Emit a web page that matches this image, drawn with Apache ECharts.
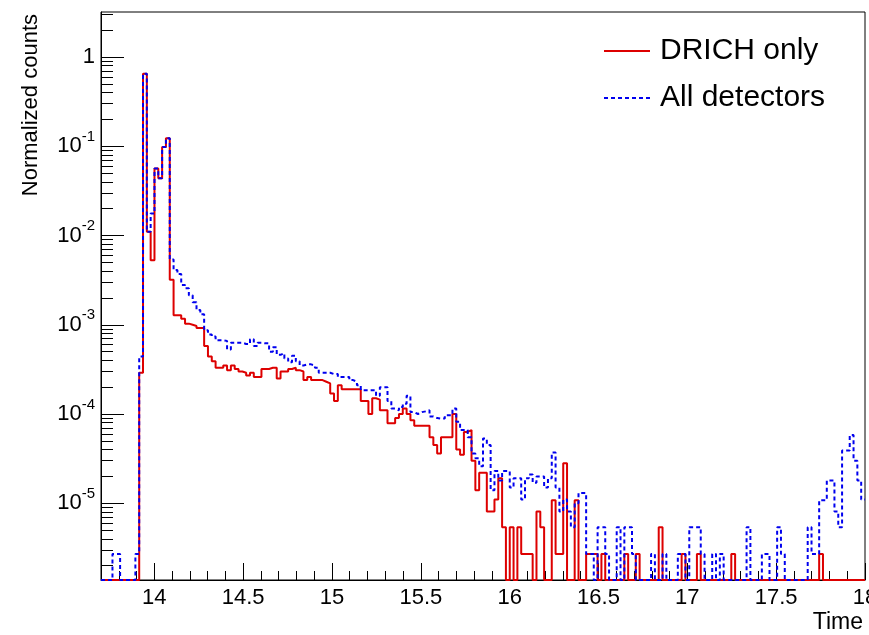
<!DOCTYPE html>
<html>
<head>
<meta charset="utf-8">
<script src="https://cdn.jsdelivr.net/npm/echarts@6/dist/echarts.min.js"></script>
<style>
html,body{margin:0;padding:0;background:#fff;}
#chart{width:869px;height:635px;}
</style>
</head>
<body>
<div id="chart"></div>
<script>
// Histogram binning (200 bins from 13.7 to 18.0)
const histLow = 13.7;
const histHigh = 18.0;
const nBins = 200;

// DRICH only (normalized counts per bin)
const drichOnly = [
  0,0,0,0,0,0,0,0,0,0,
  2.9e-4,0.652,0.011,0.0053,0.0565,0.044,0.098,0.123,0.0032,1.28e-3,
  1.28e-3,1.17e-3,1.03e-3,1.0e-3,9.7e-4,9.2e-4,9.2e-4,5.8e-4,4.4e-4,3.9e-4,
  3.3e-4,3.3e-4,3.5e-4,3.1e-4,3.5e-4,3.2e-4,3.0e-4,2.9e-4,2.7e-4,2.9e-4,
  2.6e-4,2.6e-4,3.2e-4,3.2e-4,3.3e-4,3.3e-4,2.5e-4,3.0e-4,3.0e-4,3.2e-4,
  3.3e-4,3.1e-4,3.0e-4,2.4e-4,2.6e-4,2.4e-4,2.4e-4,2.4e-4,2.3e-4,2.2e-4,
  1.7e-4,1.4e-4,2.1e-4,1.9e-4,1.9e-4,1.9e-4,1.9e-4,1.9e-4,1.4e-4,1.4e-4,
  1.0e-4,1.5e-4,1.45e-4,1.1e-4,1.1e-4,7.9e-5,7.9e-5,9.0e-5,1.0e-4,1.15e-4,
  1.0e-4,8.5e-5,7.4e-5,7.4e-5,7.4e-5,7.4e-5,5.5e-5,4.5e-5,3.6e-5,5.5e-5,
  5.5e-5,5.5e-5,1.0e-4,4.0e-5,3.5e-5,6.3e-5,6.6e-5,3.0e-5,1.4e-5,2.2e-5,
  2.2e-5,8.1e-6,8.1e-6,1.1e-5,1.9e-5,5.4e-6,0,5.4e-6,0,5.4e-6,
  2.7e-6,2.7e-6,2.7e-6,0,8.1e-6,5.4e-6,0,0,1.08e-5,2.7e-6,
  2.7e-6,2.8e-5,0,0,1.08e-5,0,0,2.7e-6,2.7e-6,2.7e-6,
  0,2.7e-6,0,0,0,0,0,2.7e-6,0,0,
  2.7e-6,0,0,0,0,0,5.4e-6,0,0,0,
  0,0,2.7e-6,0,0,0,2.7e-6,0,0,0,
  0,0,0,0,0,2.7e-6,0,0,0,0,
  0,0,0,0,0,0,0,0,0,0,
  0,0,0,0,0,0,0,0,2.7e-6,0,
  0,0,0,0,0,0,0,0,0,0
];

// All detectors (normalized counts per bin)
const allDetectors = [
  0,0,0,2.7e-6,2.7e-6,0,0,0,0,2.7e-6,
  4.4e-4,0.652,0.011,0.0177,0.0565,0.044,0.098,0.123,0.0054,4.1e-3,
  3.7e-3,2.8e-3,2.57e-3,2.14e-3,1.79e-3,1.46e-3,1.31e-3,8.7e-4,7.8e-4,7.4e-4,
  6.7e-4,6.7e-4,6.6e-4,5.3e-4,6.3e-4,6.3e-4,6.3e-4,6.1e-4,6.1e-4,6.9e-4,
  5.8e-4,6.3e-4,6.2e-4,6.2e-4,5.0e-4,5.6e-4,4.6e-4,4.8e-4,4.2e-4,3.8e-4,
  4.5e-4,3.9e-4,3.5e-4,3.6e-4,3.6e-4,3.5e-4,3.3e-4,2.9e-4,2.9e-4,2.9e-4,
  2.8e-4,2.8e-4,2.6e-4,2.6e-4,2.6e-4,2.4e-4,2.3e-4,2.1e-4,1.85e-4,1.85e-4,
  1.85e-4,1.85e-4,1.6e-4,2.0e-4,2.0e-4,1.4e-4,1.15e-4,1.1e-4,1.2e-4,1.3e-4,
  1.6e-4,1.05e-4,1.0e-4,1.05e-4,1.07e-4,1.1e-4,9.4e-5,9.0e-5,8.9e-5,8.9e-5,
  9.7e-5,9.7e-5,1.15e-4,8.2e-5,6.6e-5,6.6e-5,5.5e-5,3.6e-5,3.2e-5,2.6e-5,
  5.3e-5,4.5e-5,1.4e-5,2.3e-5,1.8e-5,2.3e-5,2.3e-5,1.5e-5,1.9e-5,1.9e-5,
  1.1e-5,1.9e-5,2.1e-5,1.7e-5,2.0e-5,2.0e-5,1.5e-5,1.9e-5,3.7e-5,1.5e-5,
  8.1e-6,1.1e-5,8.1e-6,5.4e-6,1.0e-5,1.3e-5,1.3e-5,2.7e-6,2.7e-6,0,
  5.4e-6,5.4e-6,2.7e-6,0,0,5.4e-6,0,5.4e-6,5.4e-6,2.7e-6,
  0,0,0,0,2.7e-6,0,0,2.7e-6,0,0,
  0,2.7e-6,2.7e-6,0,5.4e-6,5.4e-6,5.4e-6,2.7e-6,0,0,
  2.7e-6,0,2.7e-6,0,0,0,0,0,0,5.4e-6,
  0,0,0,2.7e-6,2.7e-6,0,0,5.4e-6,2.7e-6,0,
  0,0,0,0,0,5.4e-6,2.7e-6,2.7e-6,1.08e-5,1.08e-5,
  1.8e-5,1.8e-5,8.1e-6,5.4e-6,3.9e-5,3.9e-5,5.8e-5,3.0e-5,1.8e-5,1.1e-5
];

// Axis ticks and labels
const xTickValues = [14, 14.5, 15, 15.5, 16, 16.5, 17, 17.5, 18];
const xTickLabels = ['14', '14.5', '15', '15.5', '16', '16.5', '17', '17.5', '18'];
const yTickValues = [1e-5, 1e-4, 1e-3, 1e-2, 1e-1, 1];
const yTickLabels = ['10{s|-5}', '10{s|-4}', '10{s|-3}', '10{s|-2}', '10{s|-1}', '1'];

const yMin = 1.38e-6;
const yMax = 3.2;

// bin edges
const binWidth = (histHigh - histLow) / nBins;
const edges = [];
for (let i = 0; i <= nBins; i++) edges.push(+(histLow + i * binWidth).toFixed(5));

// minor ticks
const xMinor = [];
for (let i = 1; i <= 43; i++) {
  const v = +(13.7 + i * 0.1).toFixed(2);
  if (Math.abs(v * 2 - Math.round(v * 2)) > 1e-6 && v < 18) xMinor.push(v);
}
const yMinor = [];
for (let e = -6; e <= 0; e++) {
  for (let m = 2; m <= 9; m++) {
    const v = m * Math.pow(10, e);
    if (v > yMin && v < yMax) yMinor.push(v);
  }
}

function histSeries(vals) {
  const d = vals.map((v, i) => [edges[i], v > 0 ? v : yMin]);
  const last = vals[vals.length - 1];
  d.push([edges[nBins], last > 0 ? last : yMin]);
  return d;
}

const FONT = '"Liberation Sans", Arial, Helvetica, sans-serif';

const chart = echarts.init(document.getElementById('chart'), null, {renderer: 'canvas'});
const option = {
  animation: false,
  backgroundColor: '#fff',
  textStyle: {fontFamily: FONT},
  grid: {left: 101, right: 4, top: 12, bottom: 55, show: true, borderColor: '#000', borderWidth: 1,
         backgroundColor: 'transparent', containLabel: false, outerBoundsMode: 'none'},
  legend: {
    orient: 'vertical', left: 603, top: 36, padding: 0, itemWidth: 46, itemHeight: 14, itemGap: 17,
    itemStyle: {opacity: 0},
    textStyle: {fontSize: 30, color: '#000', fontFamily: FONT, padding: [0, 0, 0, 5]},
    data: ['DRICH only', 'All detectors']
  },
  xAxis: [{
    type: 'value', min: histLow, max: histHigh, position: 'bottom',
    axisLine: {onZero: false, lineStyle: {color: '#000', width: 1}},
    axisTick: {inside: true, length: 17, customValues: xTickValues, lineStyle: {color: '#000'}},
    axisLabel: {customValues: xTickValues, color: '#000', fontSize: 22, margin: 7, fontFamily: FONT,
      formatter: v => { const i = xTickValues.findIndex(t => Math.abs(t - v) < 1e-6); return i >= 0 ? xTickLabels[i] : ''; }},
    splitLine: {show: false}
  }, {
    type: 'value', min: histLow, max: histHigh, position: 'bottom',
    axisLine: {show: false, onZero: false},
    axisTick: {inside: true, length: 9, customValues: xMinor, lineStyle: {color: '#000'}},
    axisLabel: {show: false}, splitLine: {show: false}
  }],
  yAxis: [{
    type: 'log', logBase: 10, min: yMin, max: yMax, position: 'left',
    axisLine: {onZero: false, lineStyle: {color: '#000', width: 1}},
    axisTick: {inside: true, length: 23, customValues: yTickValues, lineStyle: {color: '#000'}},
    axisLabel: {customValues: yTickValues, color: '#000', fontSize: 22, margin: 6, fontFamily: FONT,
      formatter: v => { const i = yTickValues.findIndex(t => Math.abs(Math.log10(t) - Math.log10(v)) < 1e-6); return i >= 0 ? yTickLabels[i] : ''; },
      rich: {s: {fontSize: 15, verticalAlign: 'top', lineHeight: 34, fontFamily: FONT, color: '#000'}}},
    splitLine: {show: false}
  }, {
    type: 'log', logBase: 10, min: yMin, max: yMax, position: 'left',
    axisLine: {show: false, onZero: false},
    axisTick: {inside: true, length: 12, customValues: yMinor, lineStyle: {color: '#000'}},
    axisLabel: {show: false}, splitLine: {show: false}
  }],
  graphic: [
    {type: 'text', x: 31, y: 14, rotation: Math.PI / 2,
     style: {text: 'Normalized counts', fill: '#000', font: '22px ' + FONT, align: 'right', verticalAlign: 'middle'}},
    {type: 'text', x: 863, y: 623,
     style: {text: 'Time', fill: '#000', font: '23px ' + FONT, align: 'right', verticalAlign: 'middle'}}
  ],
  series: [{
    name: 'DRICH only', type: 'line', step: 'end', xAxisIndex: 0, yAxisIndex: 0,
    symbol: 'none', data: histSeries(drichOnly),
    lineStyle: {color: '#dd0000', width: 2}, itemStyle: {color: '#dd0000'}, z: 2
  }, {
    name: 'All detectors', type: 'line', step: 'end', xAxisIndex: 0, yAxisIndex: 0,
    symbol: 'none', data: histSeries(allDetectors),
    lineStyle: {color: '#0000ee', width: 2, type: [4, 3]}, itemStyle: {color: '#0000ee'}, z: 3
  }]
};
chart.setOption(option);
</script>
</body>
</html>
